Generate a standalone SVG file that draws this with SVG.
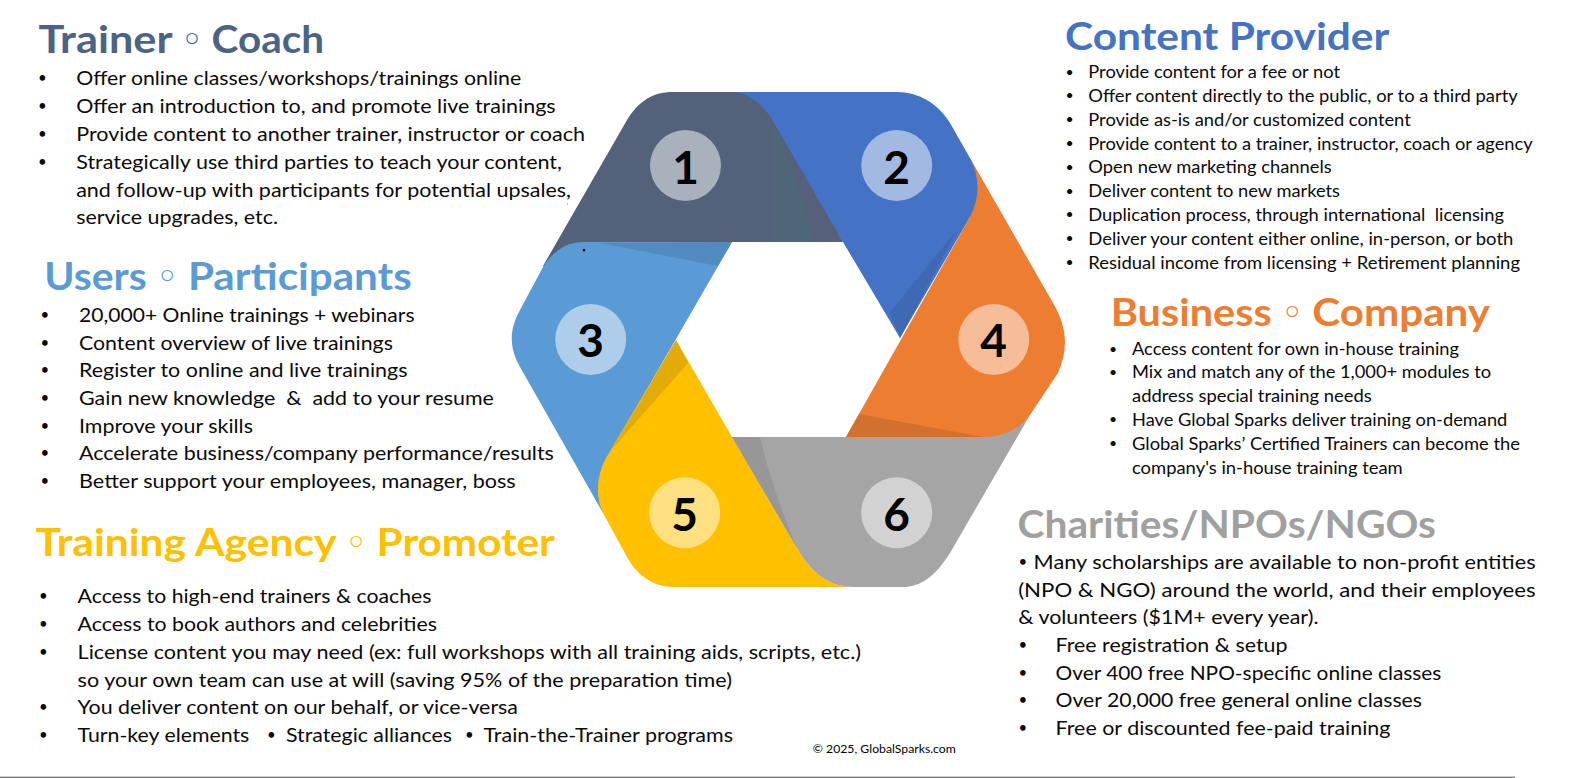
<svg xmlns="http://www.w3.org/2000/svg" width="1572" height="778" viewBox="0 0 1572 778">
<style>
text{font-family:Lato,"Open Sans","DejaVu Sans",sans-serif;fill:#000}
.t{font-weight:700;font-size:38.5px}
.o{font-family:"DejaVu Sans",sans-serif;font-weight:400;font-size:39px}
.b{font-size:19px;fill:#0a0a0a}
.c{font-size:18px;fill:#0a0a0a}
.u{font-size:15px;fill:#0a0a0a}
.v{font-size:14px;fill:#0a0a0a}
.n{font-weight:700;font-size:46px;text-anchor:middle}
.d{fill:#fff;fill-opacity:.5}
</style>
<rect width="1572" height="778" fill="#fff"/>
<g id="hexagon">
<g id="segment-1">
<path fill="#53627a" d="M627 120C638 102 652 92 673 92L760 92L843 242L600 242L600 266L543 266Z"/>
<path fill="#4f6578" d="M773 100L773 242L815 242C805 205 790 160 773 115Z"/>
<path fill="#56607a" d="M815 242L843 242L773 115C790 160 805 205 815 242Z"/>
<circle class="d" cx="685.5" cy="165.5" r="35.5"/><text class="n" x="685.5" y="184">1</text>
</g>
<g id="segment-3">
<path fill="#5b9bd5" d="M583 242L732 242L609 455L603 513L520 367C509 347 509 330 520 310L543 267C553 251 567 242 583 242Z"/>
<path fill="#518bc0" d="M600 243L732 242L718 266Z"/>
<circle class="d" cx="590.7" cy="339.5" r="35.5"/><text class="n" x="590.7" y="357">3</text>
<circle cx="584" cy="250.3" r="1.2" fill="#000"/>
</g>
<g id="segment-5">
<path fill="#ffc000" d="M676 340L732 437L800 553C812 573 830 587 853 587L673 587C653 587 637 575 627 557L603 513C595 497 596 473 609 453Z"/>
<path fill="#e3ab07" d="M676 340L688 363L613 448Z"/>
<circle class="d" cx="684.7" cy="512.7" r="35.5"/><text class="n" x="684.7" y="530.5">5</text>
</g>
<g id="segment-6">
<path fill="#a5a5a5" d="M732 437L983 437L1030 415L950 553C935 577 920 587 903 587L853 587C830 587 812 573 800 553Z"/>
<path fill="#979797" d="M732 437L760 437C770 480 785 520 797 548Z"/>
<circle class="d" cx="896.7" cy="512.7" r="35.5"/><text class="n" x="896.7" y="530.5">6</text>
</g>
<g id="segment-4">
<path fill="#ed7d31" d="M970 158L1053 303C1068 328 1068 350 1058 373L1030 415C1018 430 1003 437 983 437L846 437L970 217Z"/>
<path fill="#d2702e" d="M846 437L859 414L983 437Z"/>
<circle class="d" cx="993.7" cy="339.5" r="35.5"/><text class="n" x="993.7" y="357">4</text>
</g>
<g id="segment-2">
<path fill="#4472c4" d="M730 92L897 92C918 92 938 103 950 123L970 158C980 178 980 197 970 217L900 338L843 242L770 116C758 100 745 92 730 92Z"/>
<path fill="#3f69b3" d="M890 312L957 230L900 338Z"/>
<circle class="d" cx="896.7" cy="165.5" r="35.5"/><text class="n" x="896.7" y="184">2</text>
</g>
<circle cx="567.5" cy="204" r=".6" fill="#e33"/>
</g>
<g id="trainer-coach">
<text class="t" y="52.7" style="fill:#4d6384"><tspan x="38.5" textLength="133.2" lengthAdjust="spacingAndGlyphs">Trainer</tspan> <tspan class="o" x="180.5">◦</tspan> <tspan x="211.6" textLength="112.4" lengthAdjust="spacingAndGlyphs">Coach</tspan></text>
<text class="u" x="38" y="83">•</text><text class="b" x="76.2" y="85" textLength="445" lengthAdjust="spacingAndGlyphs">Offer online classes/workshops/trainings online</text>
<text class="u" x="38" y="111">•</text><text class="b" x="76.2" y="113" textLength="479.5" lengthAdjust="spacingAndGlyphs">Offer an introduction to, and promote live trainings</text>
<text class="u" x="38" y="139">•</text><text class="b" x="76.2" y="141" textLength="508.8" lengthAdjust="spacingAndGlyphs">Provide content to another trainer, instructor or coach</text>
<text class="u" x="38" y="167">•</text><text class="b" x="76.2" y="169" textLength="485.8" lengthAdjust="spacingAndGlyphs">Strategically use third parties to teach your content,</text>
<text class="b" x="76.2" y="197" textLength="494.8" lengthAdjust="spacingAndGlyphs">and follow-up with participants for potential upsales,</text>
<text class="b" x="76.2" y="224.3" textLength="201.8" lengthAdjust="spacingAndGlyphs">service upgrades, etc.</text>
</g>
<g id="users-participants">
<text class="t" y="290" style="fill:#5b9bd5"><tspan x="44.3" textLength="102.5" lengthAdjust="spacingAndGlyphs">Users</tspan> <tspan class="o" x="155.8">◦</tspan> <tspan x="187.9" textLength="223.9" lengthAdjust="spacingAndGlyphs">Participants</tspan></text>
<text class="u" x="40.5" y="319.7">•</text><text class="b" x="79" y="321.7" textLength="335.6" lengthAdjust="spacingAndGlyphs">20,000+ Online trainings + webinars</text>
<text class="u" x="40.5" y="347.7">•</text><text class="b" x="79" y="349.7" textLength="313.9" lengthAdjust="spacingAndGlyphs">Content overview of live trainings</text>
<text class="u" x="40.5" y="375.3">•</text><text class="b" x="79" y="377.3" textLength="328.5" lengthAdjust="spacingAndGlyphs">Register to online and live trainings</text>
<text class="u" x="40.5" y="403.3">•</text><text class="b" x="79" y="405.3" textLength="414.9" lengthAdjust="spacingAndGlyphs" xml:space="preserve">Gain new knowledge  &amp;  add to your resume</text>
<text class="u" x="40.5" y="431">•</text><text class="b" x="79" y="433" textLength="173.9" lengthAdjust="spacingAndGlyphs">Improve your skills</text>
<text class="u" x="40.5" y="458.3">•</text><text class="b" x="79" y="460.3" textLength="474.9" lengthAdjust="spacingAndGlyphs">Accelerate business/company performance/results</text>
<text class="u" x="40.5" y="486.3">•</text><text class="b" x="79" y="488.3" textLength="436.7" lengthAdjust="spacingAndGlyphs">Better support your employees, manager, boss</text>
</g>
<g id="training-agency-promoter">
<text class="t" y="555.7" style="fill:#ffc000"><tspan x="35.4" textLength="300" lengthAdjust="spacingAndGlyphs">Training Agency</tspan> <tspan class="o" x="344.8">◦</tspan> <tspan x="376.6" textLength="178.2" lengthAdjust="spacingAndGlyphs">Promoter</tspan></text>
<text class="u" x="39" y="601.3">•</text><text class="b" x="77.6" y="603.3" textLength="353.8" lengthAdjust="spacingAndGlyphs">Access to high-end trainers &amp; coaches</text>
<text class="u" x="39" y="629">•</text><text class="b" x="77.6" y="631" textLength="359.3" lengthAdjust="spacingAndGlyphs">Access to book authors and celebrities</text>
<text class="u" x="39" y="657">•</text><text class="b" x="77.6" y="659" textLength="783.4" lengthAdjust="spacingAndGlyphs">License content you may need (ex: full workshops with all training aids, scripts, etc.)</text>
<text class="b" x="77.6" y="687" textLength="654.4" lengthAdjust="spacingAndGlyphs">so your own team can use at will (saving 95% of the preparation time)</text>
<text class="u" x="39" y="712.3">•</text><text class="b" x="77.6" y="714.3" textLength="440.4" lengthAdjust="spacingAndGlyphs">You deliver content on our behalf, or vice-versa</text>
<text class="u" x="39" y="740">•</text><text class="b" x="77.6" y="742" textLength="171.7" lengthAdjust="spacingAndGlyphs">Turn-key elements</text>
<text class="u" x="267" y="740">•</text><text class="b" x="286" y="742" textLength="166" lengthAdjust="spacingAndGlyphs">Strategic alliances</text>
<text class="u" x="465" y="740">•</text><text class="b" x="483.5" y="742" textLength="249.5" lengthAdjust="spacingAndGlyphs">Train-the-Trainer programs</text>
</g>
<g id="content-provider">
<text class="t" x="1065" y="50" style="fill:#4472c4" textLength="324.3" lengthAdjust="spacingAndGlyphs">Content Provider</text>
<text class="v" x="1065.5" y="76.6">•</text><text class="c" x="1088.3" y="78.3" textLength="251.7" lengthAdjust="spacingAndGlyphs">Provide content for a fee or not</text>
<text class="v" x="1065.5" y="100.3">•</text><text class="c" x="1088.3" y="102" textLength="429.4" lengthAdjust="spacingAndGlyphs">Offer content directly to the public, or to a third party</text>
<text class="v" x="1065.5" y="124.3">•</text><text class="c" x="1088.3" y="126" textLength="322.4" lengthAdjust="spacingAndGlyphs">Provide as-is and/or customized content</text>
<text class="v" x="1065.5" y="148">•</text><text class="c" x="1088.3" y="149.7" textLength="444.4" lengthAdjust="spacingAndGlyphs">Provide content to a trainer, instructor, coach or agency</text>
<text class="v" x="1065.5" y="171.6">•</text><text class="c" x="1088.3" y="173.3" textLength="243.4" lengthAdjust="spacingAndGlyphs">Open new marketing channels</text>
<text class="v" x="1065.5" y="195.6">•</text><text class="c" x="1088.3" y="197.3" textLength="251.7" lengthAdjust="spacingAndGlyphs">Deliver content to new markets</text>
<text class="v" x="1065.5" y="219.3">•</text><text class="c" x="1088.3" y="221" textLength="415.7" lengthAdjust="spacingAndGlyphs" xml:space="preserve">Duplication process, through international  licensing</text>
<text class="v" x="1065.5" y="243.3">•</text><text class="c" x="1088.3" y="245" textLength="425" lengthAdjust="spacingAndGlyphs">Deliver your content either online, in-person, or both</text>
<text class="v" x="1065.5" y="267">•</text><text class="c" x="1088.3" y="268.7" textLength="431.7" lengthAdjust="spacingAndGlyphs">Residual income from licensing + Retirement planning</text>
</g>
<g id="business-company">
<text class="t" y="325.7" style="fill:#ed7d31"><tspan x="1110.7" textLength="161" lengthAdjust="spacingAndGlyphs">Business</tspan> <tspan class="o" x="1280.7">◦</tspan> <tspan x="1312.3" textLength="177.7" lengthAdjust="spacingAndGlyphs">Company</tspan></text>
<text class="v" x="1109" y="353.6">•</text><text class="c" x="1132" y="355.3" textLength="327" lengthAdjust="spacingAndGlyphs">Access content for own in-house training</text>
<text class="v" x="1109" y="376.6">•</text><text class="c" x="1132" y="378.3" textLength="359" lengthAdjust="spacingAndGlyphs">Mix and match any of the 1,000+ modules to</text>
<text class="c" x="1132" y="402.3" textLength="239.7" lengthAdjust="spacingAndGlyphs">address special training needs</text>
<text class="v" x="1109" y="424.3">•</text><text class="c" x="1132" y="426" textLength="375.3" lengthAdjust="spacingAndGlyphs">Have Global Sparks deliver training on-demand</text>
<text class="v" x="1109" y="448.3">•</text><text class="c" x="1132" y="450" textLength="388" lengthAdjust="spacingAndGlyphs">Global Sparks’ Certified Trainers can become the</text>
<text class="c" x="1132" y="473.7" textLength="270.7" lengthAdjust="spacingAndGlyphs">company's in-house training team</text>
</g>
<g id="charities">
<text class="t" x="1017.5" y="538.3" style="fill:#a0a0a0" textLength="418.5" lengthAdjust="spacingAndGlyphs">Charities/NPOs/NGOs</text>
<text class="u" x="1018.5" y="567">•</text><text class="b" x="1033.6" y="569" textLength="502" lengthAdjust="spacingAndGlyphs">Many scholarships are available to non-profit entities</text>
<text class="b" x="1018.2" y="596.7" textLength="517.4" lengthAdjust="spacingAndGlyphs">(NPO &amp; NGO) around the world, and their employees</text>
<text class="b" x="1018.2" y="624.3" textLength="300.3" lengthAdjust="spacingAndGlyphs">&amp; volunteers ($1M+ every year).</text>
<text class="u" x="1018.5" y="650.3">•</text><text class="b" x="1055.5" y="652.3" textLength="232" lengthAdjust="spacingAndGlyphs">Free registration &amp; setup</text>
<text class="u" x="1018.5" y="678">•</text><text class="b" x="1055.5" y="680" textLength="385.9" lengthAdjust="spacingAndGlyphs">Over 400 free NPO-specific online classes</text>
<text class="u" x="1018.5" y="705.3">•</text><text class="b" x="1055.5" y="707.3" textLength="366.5" lengthAdjust="spacingAndGlyphs">Over 20,000 free general online classes</text>
<text class="u" x="1018.5" y="733.3">•</text><text class="b" x="1055.5" y="735.3" textLength="334.9" lengthAdjust="spacingAndGlyphs">Free or discounted fee-paid training</text>
</g>
<g id="footer">
<text x="812.8" y="753.3" font-size="11" textLength="143" lengthAdjust="spacingAndGlyphs">© 2025, GlobalSparks.com</text>
<rect x="0" y="776.6" width="1515" height="1.4" fill="#808080"/>
</g>
</svg>
